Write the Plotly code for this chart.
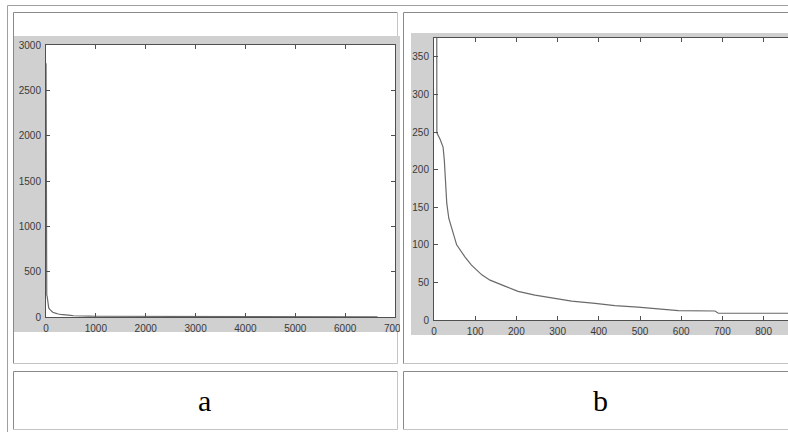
import plotly.graph_objects as go

# ---- data ----
x_vals = [1, 6, 7, 15, 22, 25, 31, 36, 46, 55, 75, 91, 116, 136, 172, 204, 245, 294,
          334, 391, 439, 495, 553, 593, 682, 690, 860, 1000, 1500, 2000, 3000, 4000,
          5000, 6000, 6650]
y_vals = [2800, 400, 249, 240, 230, 213, 155, 135, 117, 100, 84, 73, 60, 53, 45, 38,
          33, 29, 25, 22, 19, 17, 14, 12.4, 12, 9, 9, 8, 7, 6, 5, 4, 3.5, 3, 3]

a_xticks = [0, 1000, 2000, 3000, 4000, 5000, 6000, 7000]
a_yticks = [0, 500, 1000, 1500, 2000, 2500, 3000]
b_xticks = [0, 100, 200, 300, 400, 500, 600, 700, 800]
b_yticks = [0, 50, 100, 150, 200, 250, 300, 350]
panel_labels = ["a", "b"]

W, H = 788, 432
def px(x):
    return min(max(x, 0), W) / W
def py(y):
    return 1 - min(max(y, 0), H) / H

fig = go.Figure()
fig.add_trace(go.Scatter(x=x_vals, y=y_vals, mode="lines", xaxis="x", yaxis="y",
                         line=dict(color="#6a6a6a", width=1.2), hoverinfo="skip"))
fig.add_trace(go.Scatter(x=x_vals, y=y_vals, mode="lines", xaxis="x2", yaxis="y2",
                         line=dict(color="#6a6a6a", width=1.2), hoverinfo="skip"))

tickfont = dict(family="Liberation Sans, Arial, sans-serif", size=10, color="#3a3a3a")
axcommon = dict(showgrid=False, zeroline=False, showline=True, linecolor="#505050",
                linewidth=1, ticks="inside", ticklen=4, tickcolor="#505050",
                tickfont=tickfont, fixedrange=True, automargin=False)

shapes = []
border_dark = "#8a8a8a"
border_light = "#c4c4c4"
def line(x0, y0, x1, y1, color, width=1, layer="below"):
    shapes.append(dict(type="line", xref="paper", yref="paper", x0=px(x0), y0=py(y0),
                       x1=px(x1), y1=py(y1), line=dict(color=color, width=width), layer=layer))
def rect(x0, y0, x1, y1, fill, layer="below"):
    shapes.append(dict(type="rect", xref="paper", yref="paper", x0=px(x0), y0=py(y0),
                       x1=px(x1), y1=py(y1), fillcolor=fill, line=dict(width=0), layer=layer))

# outer table border
line(7.5, 5.5, 788, 5.5, "#a0a0a0")
line(7.5, 5.5, 7.5, 432, "#a0a0a0")
# cells (right side of cell b lies beyond the window)
line(13.5, 12.5, 397.5, 12.5, border_dark)
line(13.5, 12.5, 13.5, 363.5, border_dark)
line(13.5, 363.5, 397.5, 363.5, border_light)
line(397.5, 12.5, 397.5, 363.5, border_light)
line(403.5, 12.5, 788, 12.5, border_dark)
line(403.5, 363.5, 788, 363.5, border_light)
line(13.5, 371.5, 397.5, 371.5, border_dark)
line(13.5, 371.5, 13.5, 429.5, border_dark)
line(13.5, 429.5, 397.5, 429.5, border_light)
line(397.5, 371.5, 397.5, 429.5, border_light)
line(403.5, 371.5, 788, 371.5, border_dark)
line(403.5, 371.5, 403.5, 429.5, border_dark)
line(403.5, 429.5, 788, 429.5, border_light)

# gray figure backgrounds
rect(14, 36, 400, 332, "#d0d0d0")
rect(411, 33, 788, 335, "#d0d0d0")
# white axes areas
rect(46, 45, 395, 317, "#ffffff")
rect(434, 38, 788, 320, "#ffffff")

# white strip between the two images (clips the overflowing "7000" label)
rect(400, 20, 411, 340, "#ffffff", layer="above")
line(403.5, 12.5, 403.5, 363.5, border_dark, layer="above")

fig.update_layout(
    width=W, height=H, margin=dict(l=0, r=0, t=0, b=0, autoexpand=False),
    paper_bgcolor="white", plot_bgcolor="white", showlegend=False,
    xaxis=dict(domain=[px(46), px(395)], range=[0, 7000], tickvals=a_xticks,
               ticktext=[str(v) for v in a_xticks], mirror="ticks", anchor="y",
               ticklabelstandoff=2, **axcommon),
    yaxis=dict(domain=[py(317), py(45)], range=[0, 3000], tickvals=a_yticks,
               ticktext=[str(v) for v in a_yticks], mirror="ticks", anchor="x",
               ticklabelstandoff=2, **axcommon),
    xaxis2=dict(domain=[px(434), 1], range=[0, (788 - 434) / 0.412], tickvals=b_xticks,
                ticktext=[str(v) for v in b_xticks], mirror="ticks", anchor="y2",
                ticklabelstandoff=2, **axcommon),
    yaxis2=dict(domain=[py(320), py(38)], range=[0, 375], tickvals=b_yticks,
                ticktext=[str(v) for v in b_yticks], anchor="x2",
                ticklabelstandoff=2, **axcommon),
    shapes=shapes,
    annotations=[
        dict(text=panel_labels[0], x=px(205), y=py(400), xref="paper", yref="paper",
             xanchor="center", yanchor="middle", showarrow=False,
             font=dict(family="Liberation Serif, Times New Roman, serif", size=30, color="black")),
        dict(text=panel_labels[1], x=px(600), y=py(400), xref="paper", yref="paper",
             xanchor="center", yanchor="middle", showarrow=False,
             font=dict(family="Liberation Serif, Times New Roman, serif", size=30, color="black")),
    ],
)

fig.write_html("out.html")
